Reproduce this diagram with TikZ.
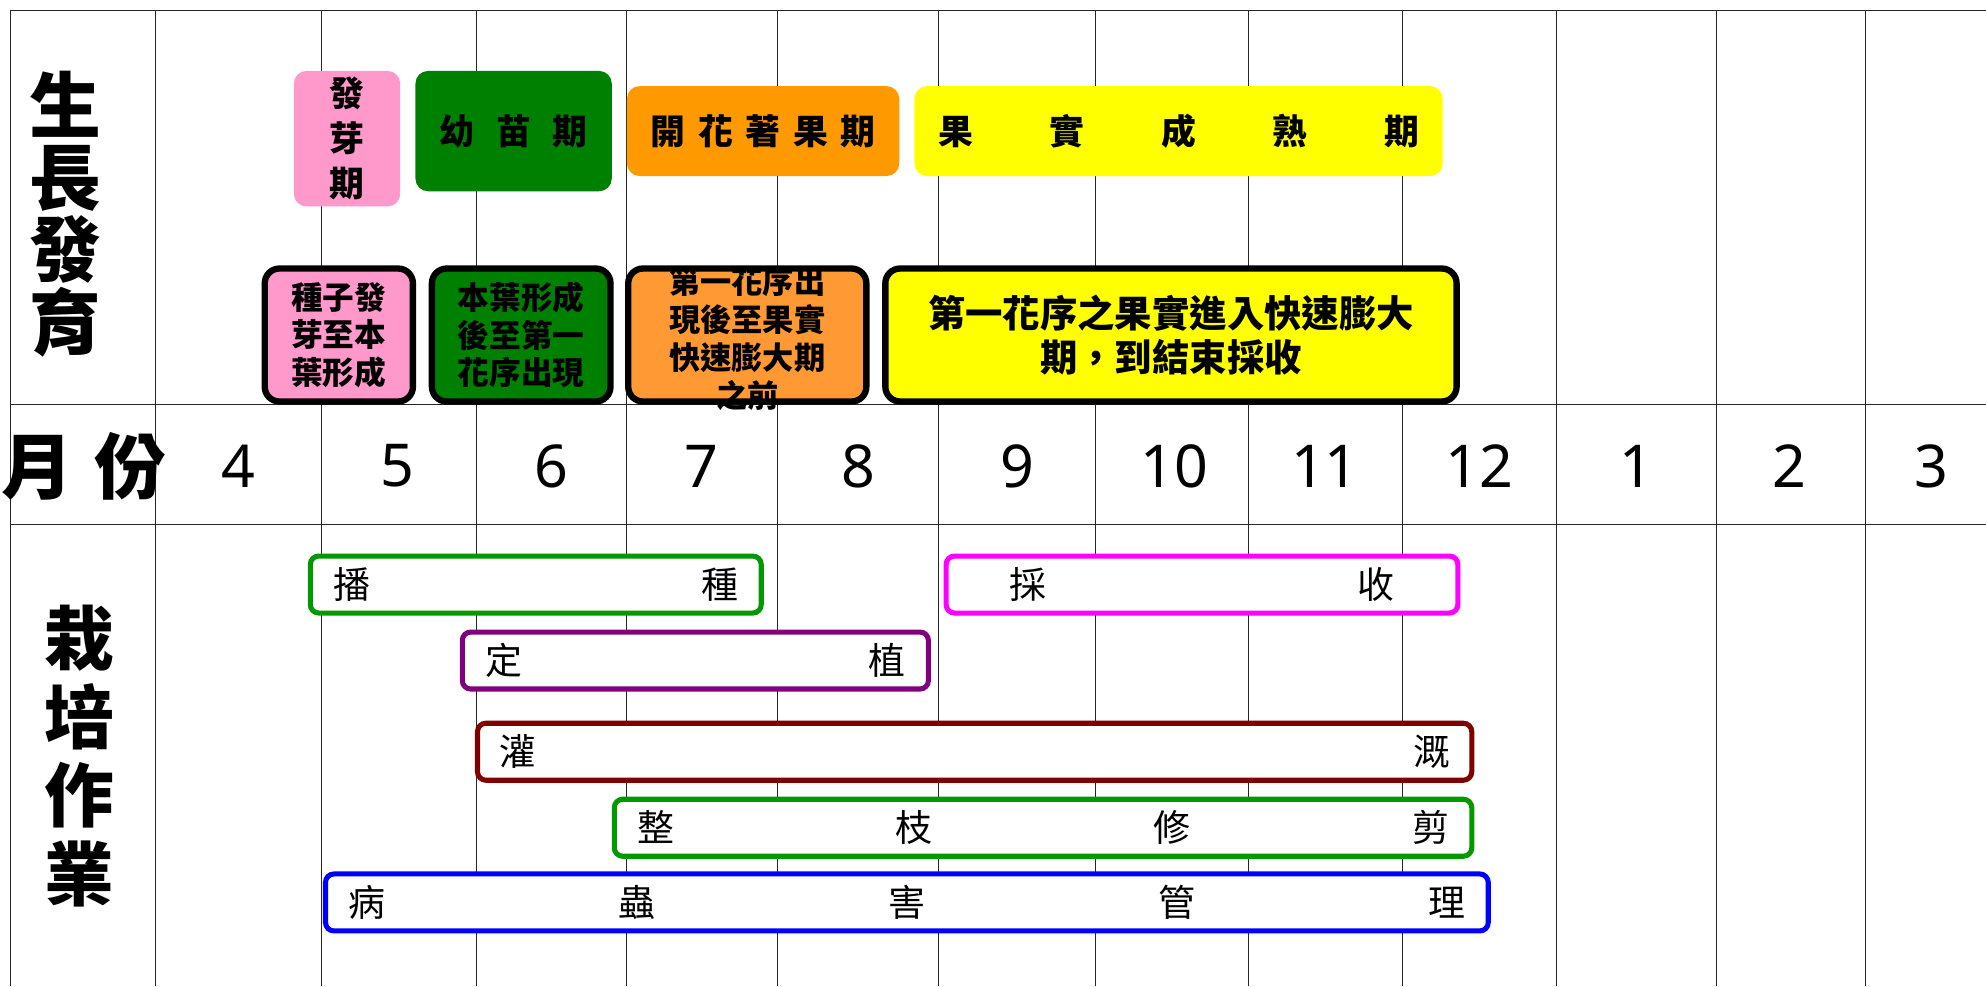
\documentclass[tikz,border=0pt]{standalone}
\usepackage{fontspec}
\newfontfamily\cjk{Noto Sans CJK TC}
\newfontfamily\numfont{Noto Sans}
\definecolor{pinkc}{HTML}{FF99CC}
\definecolor{greenc}{HTML}{008000}
\definecolor{orangec}{HTML}{FF9900}
\definecolor{orangel}{HTML}{FF9933}
\definecolor{yellowc}{HTML}{FFFF00}
\definecolor{barg}{HTML}{009900}
\definecolor{barp}{HTML}{800080}
\definecolor{barr}{HTML}{800000}
\definecolor{barb}{HTML}{0000FF}
\definecolor{barm}{HTML}{FF00FF}
\tikzset{
  gridline/.style={draw=black!85, line width=0.5pt},
  phase/.style={rounded corners=6pt, inner sep=0pt, align=center,
    font=\cjk\bfseries\fontsize{16.5}{21.3}\selectfont},
  stagebox/.style={draw=black, line width=3pt, rounded corners=7pt, inner sep=0pt, align=center,
    font=\cjk\bfseries\fontsize{15}{17.7}\selectfont},
  stagetext/.style={inner sep=0pt, align=center, font=\cjk\bfseries\fontsize{14.8}{18}\selectfont},
  workbar/.style={fill=white, line width=2.4pt, rounded corners=4pt, inner sep=0pt,
    font=\cjk\fontsize{17.5}{20}\selectfont},
  biglabel/.style={inner sep=0pt, align=center, font=\cjk\bfseries\fontsize{34}{34.2}\selectfont},
  month/.style={inner sep=0pt, font=\numfont\fontsize{28}{30}\selectfont},
}
\newcommand\gbox[7]{%
  \pgfmathsetmacro\gbW{(#4-#2)*0.6}%
  \pgfmathsetmacro\gbH{(#5-#3)*0.6}%
  \node[#6, minimum width=\gbW pt, minimum height=\gbH pt] (#1) at ({(#2+#4)/2},{(#3+#5)/2}) {#7};%
}
\newcommand\wbar[8]{%
  \pgfmathsetmacro\gbW{(#4-#2)*0.6}%
  \pgfmathsetmacro\gbH{(#5-#3)*0.6}%
  \pgfmathsetmacro\gbT{(#4-#2-2*#7)*0.6}%
  \node[workbar, draw=#6, minimum width=\gbW pt, minimum height=\gbH pt] (#1) at ({(#2+#4)/2},{(#3+#5)/2}) {\hbox to \gbT pt{#8}};%
}
\begin{document}
\begin{tikzpicture}[x=0.6pt,y=-0.6pt]
\useasboundingbox (0,0) rectangle (1568,778.5);
\fill[white] (0,0) rectangle (1568,778.5);
% grid
\foreach \yy in {8,319,414} \draw[gridline] (8,\yy) -- (1568,\yy);
\foreach \xx in {8,123,254,376,495,614,741,865,986,1107,1229,1355,1473} \draw[gridline] (\xx,8) -- (\xx,778.5);
% left labels
\node[biglabel] (lblgrow) at (52,169) {生\\長\\發\\育};
\node[biglabel] (lblmonth) at (66,368) {月\hspace{10pt}份};
\node[biglabel, font=\cjk\bfseries\fontsize{33}{37.2}\selectfont] (lblwork) at (63,597) {栽\\培\\作\\業};
% months
\foreach \m/\xx in {4/188,5/314,6/435,7/554,8/678,9/803,10/927,11/1046,12/1168,1/1292,2/1413,3/1525}
  \node[month] (m\m) at (\xx,368) {\m};
% growth phases
\gbox{ph1}{232}{56}{316}{163}{phase, fill=pinkc}{發\\芽\\期}
\gbox{ph2}{328}{56}{483}{151}{phase, fill=greenc}{幼\hspace{10.2pt}苗\hspace{10.2pt}期}
\gbox{ph3}{495}{68}{710}{139}{phase, fill=orangec}{開\hspace{6pt}花\hspace{6pt}著\hspace{6pt}果\hspace{6pt}期}
\gbox{ph4}{722}{68}{1139}{139}{phase, fill=yellowc}{果\hspace{36.3pt}實\hspace{36.3pt}成\hspace{36.3pt}熟\hspace{36.3pt}期}
% stage boxes
\gbox{st1}{209}{212}{326}{317}{stagebox, fill=pinkc}{種子發\\芽至本\\葉形成}
\gbox{st2}{341}{212}{482}{317}{stagebox, fill=greenc}{本葉形成\\後至第一\\花序出現}
\gbox{st3}{496}{212}{684}{317}{stagebox, fill=orangel}{}
\node[stagetext] (st3t) at (590,267) {第一花序出\\現後至果實\\快速膨大期\\之前};
\gbox{st4}{699}{212}{1150}{317}{stagebox, fill=yellowc, font=\cjk\bfseries\fontsize{17.7}{21}\selectfont}{第一花序之果實進入快速膨大\\期，到結束採收}
% work bars
\wbar{w1}{245}{439}{601}{484}{barg}{18}{播\hfill 種}
\wbar{w6}{747}{439}{1151}{484}{barm}{50}{採\hfill 收}
\wbar{w2}{365}{499}{733}{544}{barp}{18}{定\hfill 植}
\wbar{w3}{377}{571}{1162}{616}{barr}{17}{灌\hfill 溉}
\wbar{w4}{485}{631}{1162}{676}{barg}{18}{整\hfill 枝\hfill 修\hfill 剪}
\wbar{w5}{257}{690}{1175}{735}{barb}{18}{病\hfill 蟲\hfill 害\hfill 管\hfill 理}
\end{tikzpicture}
\end{document}
